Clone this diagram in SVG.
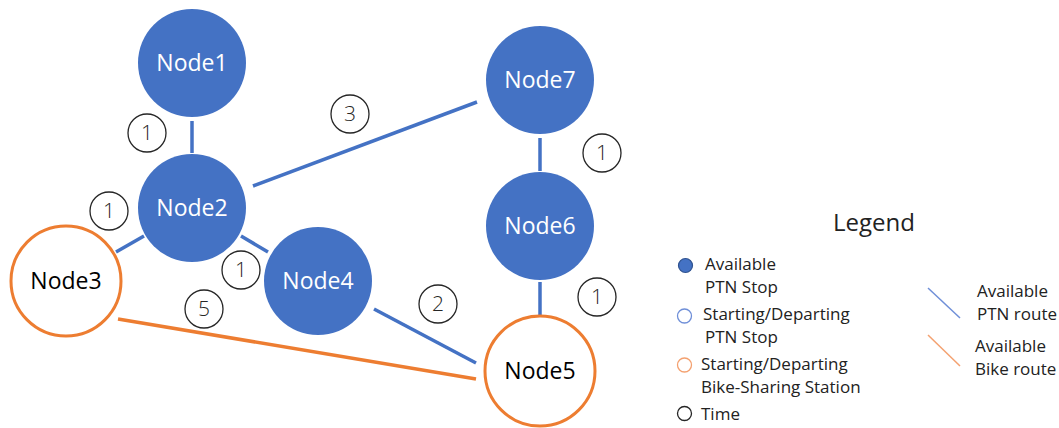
<svg xmlns="http://www.w3.org/2000/svg" width="1059" height="428" viewBox="0 0 1059 428">
  <style>
    .stop { fill: #4472c4; }
    .bike { fill: #ffffff; stroke: #ed7d31; stroke-width: 3; }
    .lbl { font-family: "Open Sans", "Liberation Sans", sans-serif; font-size: 23px; text-anchor: middle; }
    .lbl-w { fill: #ffffff; }
    .lbl-k { fill: #000000; }
    .ptn { stroke: #4472c4; stroke-width: 3.5; fill: none; }
    .bk { stroke: #ed7d31; stroke-width: 3.5; fill: none; }
    .time circle { fill: #ffffff; stroke: #262626; stroke-width: 1.3; }
    .time text { font-family: "Open Sans", "Liberation Sans", sans-serif; font-weight: 300; font-size: 21px; fill: #262626; text-anchor: middle; }
    .leg { font-family: "Open Sans", "Liberation Sans", sans-serif; font-size: 17px; fill: #222222; }
  </style>

  <!-- connectors -->
  <g id="connectors">
    <line class="ptn" x1="192" y1="121" x2="192" y2="153"/>
    <line class="ptn" x1="253" y1="186" x2="477" y2="102"/>
    <line class="ptn" x1="116" y1="252" x2="144" y2="236"/>
    <line class="ptn" x1="241" y1="236" x2="268" y2="252"/>
    <line class="ptn" x1="540" y1="138" x2="540" y2="171"/>
    <line class="ptn" x1="540" y1="282" x2="540" y2="315"/>
    <line class="ptn" x1="374" y1="309" x2="476" y2="363"/>
    <line class="bk" x1="118" y1="319" x2="476" y2="379"/>
  </g>

  <!-- nodes -->
  <g id="node1">
    <circle class="stop" cx="192" cy="63" r="54"/>
    <text class="lbl lbl-w" x="192" y="71">Node1</text>
  </g>
  <g id="node2">
    <circle class="stop" cx="192" cy="208" r="54"/>
    <text class="lbl lbl-w" x="192" y="216">Node2</text>
  </g>
  <g id="node3">
    <circle class="bike" cx="66" cy="281" r="55"/>
    <text class="lbl lbl-k" x="66" y="289">Node3</text>
  </g>
  <g id="node4">
    <circle class="stop" cx="318" cy="281" r="54"/>
    <text class="lbl lbl-w" x="318" y="289">Node4</text>
  </g>
  <g id="node5">
    <circle class="bike" cx="540" cy="371" r="55"/>
    <text class="lbl lbl-k" x="540" y="379">Node5</text>
  </g>
  <g id="node6">
    <circle class="stop" cx="540" cy="226" r="54"/>
    <text class="lbl lbl-w" x="540" y="234">Node6</text>
  </g>
  <g id="node7">
    <circle class="stop" cx="540" cy="80" r="54"/>
    <text class="lbl lbl-w" x="540" y="88">Node7</text>
  </g>

  <!-- travel times -->
  <g id="times" class="time">
    <g><circle cx="147" cy="133" r="19"/><text x="147" y="140">1</text></g>
    <g><circle cx="109" cy="211" r="19"/><text x="109" y="218">1</text></g>
    <g><circle cx="241" cy="270" r="19"/><text x="241" y="277">1</text></g>
    <g><circle cx="204" cy="309" r="19"/><text x="204" y="316">5</text></g>
    <g><circle cx="350" cy="114" r="19"/><text x="350" y="121">3</text></g>
    <g><circle cx="602" cy="153" r="19"/><text x="602" y="160">1</text></g>
    <g><circle cx="438" cy="304" r="19"/><text x="438" y="311">2</text></g>
    <g><circle cx="597" cy="297" r="19"/><text x="597" y="304">1</text></g>
  </g>

  <!-- legend -->
  <g id="legend">
    <text x="874" y="231" font-family="'Open Sans', 'Liberation Sans', sans-serif" font-size="24" fill="#222222" text-anchor="middle">Legend</text>

    <circle cx="685.5" cy="265.5" r="7" fill="#4472c4" stroke="#2f528f" stroke-width="1.2"/>
    <text class="leg" x="705" y="270">Available</text>
    <text class="leg" x="705" y="293">PTN Stop</text>

    <circle cx="684.5" cy="316" r="7" fill="#ffffff" stroke="#6f8fd8" stroke-width="1.3"/>
    <text class="leg" x="703" y="320">Starting/Departing</text>
    <text class="leg" x="705" y="343">PTN Stop</text>

    <circle cx="684.5" cy="365" r="7" fill="#ffffff" stroke="#f4a170" stroke-width="1.3"/>
    <text class="leg" x="701" y="370">Starting/Departing</text>
    <text class="leg" x="701" y="393">Bike-Sharing Station</text>

    <circle cx="684.5" cy="413.5" r="7" fill="#ffffff" stroke="#262626" stroke-width="1.3"/>
    <text class="leg" x="701" y="420">Time</text>

    <line x1="928" y1="288" x2="960" y2="318" stroke="#6f8fd8" stroke-width="1.5"/>
    <text class="leg" x="977" y="297">Available</text>
    <text class="leg" x="977" y="320">PTN route</text>

    <line x1="928" y1="335" x2="960" y2="366" stroke="#f4a170" stroke-width="1.5"/>
    <text class="leg" x="975" y="352">Available</text>
    <text class="leg" x="975" y="375">Bike route</text>
  </g>
</svg>
